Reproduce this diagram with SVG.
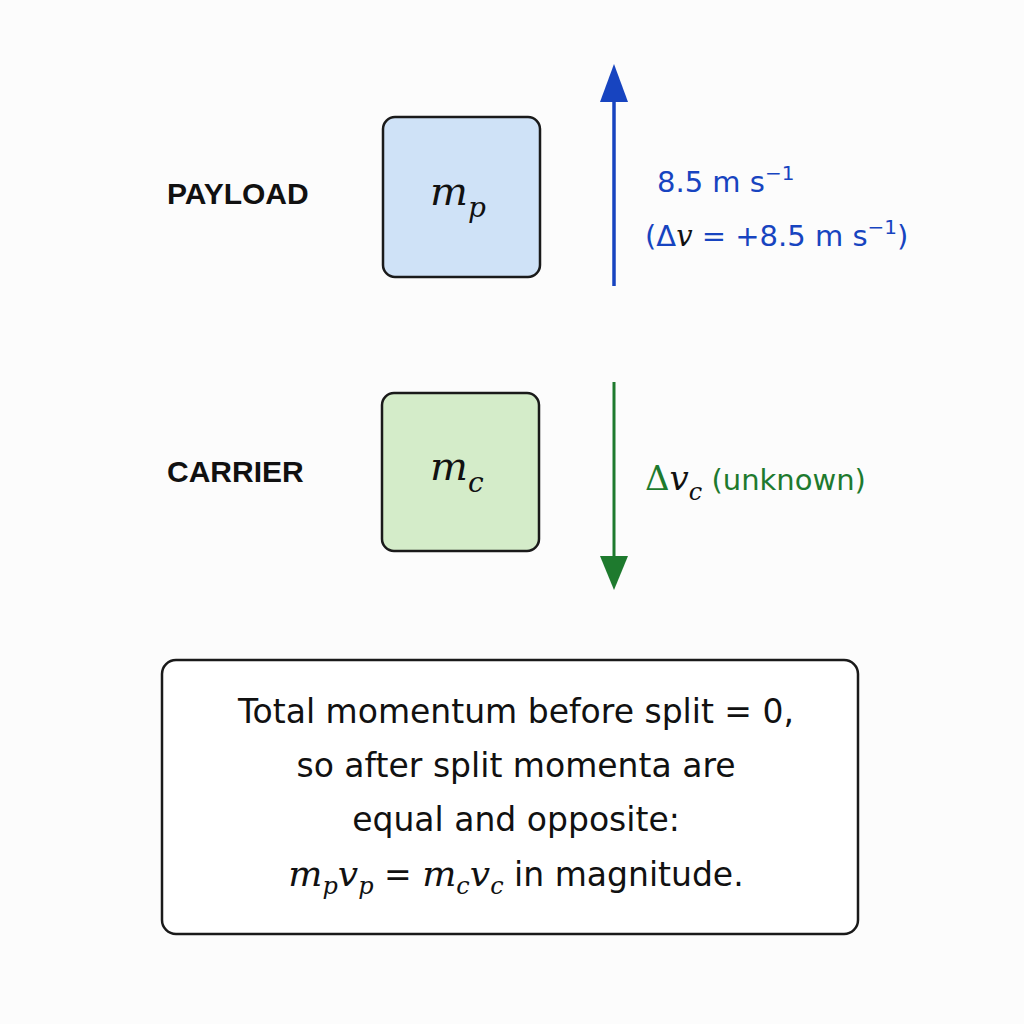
<svg xmlns="http://www.w3.org/2000/svg" width="1024" height="1024" viewBox="0 0 1024 1024">
<style>
.lbl{font-family:"Liberation Sans",Arial,sans-serif;font-weight:bold;font-size:30px;fill:#111}
.m{font-family:"DejaVu Serif","Liberation Serif",serif;font-style:italic;fill:#111}
.t{font-family:"DejaVu Sans","Noto Sans",sans-serif;font-size:33px;fill:#111}
.box{stroke:#1a1a1a;stroke-width:2.5}
</style>
<defs>
<marker id="ab" markerWidth="10" markerHeight="10" refX="5" refY="5" orient="auto" markerUnits="userSpaceOnUse" viewBox="0 0 10 10"><path d="M0,0 L10,5 L0,10 z" fill="#1744c0"/></marker>
</defs>
<rect width="1024" height="1024" fill="#fcfcfc"/>
<g id="payload">
<text class="lbl" x="167" y="204">PAYLOAD</text>
<rect class="box" x="383" y="117" width="157" height="160" rx="12" fill="#cfe2f7"/>
<text class="m" x="430" y="205" font-size="40">m<tspan font-size="28" dy="12">p</tspan></text>
</g>
<g id="carrier">
<text class="lbl" x="167" y="482">CARRIER</text>
<rect class="box" x="382" y="393" width="157" height="158" rx="12" fill="#d4ecc9"/>
<text class="m" x="430" y="480" font-size="40">m<tspan font-size="28" dy="12">c</tspan></text>
</g>
<g id="connectors">
<line x1="614" y1="286" x2="614" y2="90" stroke="#1744c0" stroke-width="3.5"/>
<path d="M614,64 L600,102 L628,102 z" fill="#1744c0"/>
<line x1="614" y1="382" x2="614" y2="565" stroke="#1e7a2e" stroke-width="3"/>
<path d="M614,590 L600,556 L628,556 z" fill="#1e7a2e"/>
</g>
<g id="labels">
<text x="657" y="192" font-family="DejaVu Sans,sans-serif" font-size="29" fill="#1744c0">8.5 m s<tspan font-size="20" dy="-12">−1</tspan></text>
<text x="645" y="246" font-family="DejaVu Sans,sans-serif" font-size="29" fill="#1744c0">(Δ<tspan class="m" fill="#1744c0">v</tspan> = +8.5 m s<tspan font-size="20" dy="-12">−1</tspan><tspan dy="12">)</tspan></text>
<text x="645" y="490" font-family="DejaVu Sans,sans-serif" font-size="29" fill="#1e7a2e"><tspan font-family="DejaVu Serif,serif" font-size="34">Δ</tspan><tspan class="m" fill="#1e7a2e" font-size="34">v</tspan><tspan class="m" fill="#1e7a2e" font-size="24" dy="10">c</tspan><tspan dy="-10"> (unknown)</tspan></text>
</g>
<g id="note">
<rect class="box" x="162" y="660" width="696" height="274" rx="14" fill="#fff"/>
<text class="t" x="516" y="723" text-anchor="middle">Total momentum before split = 0,</text>
<text class="t" x="516" y="777" text-anchor="middle">so after split momenta are</text>
<text class="t" x="516" y="831" text-anchor="middle">equal and opposite:</text>
<text x="516" y="886" text-anchor="middle" font-family="DejaVu Sans,sans-serif" font-size="33" fill="#111"><tspan class="m" font-size="36">m</tspan><tspan class="m" font-size="24" dy="8">p</tspan><tspan class="m" font-size="36" dy="-8">v</tspan><tspan class="m" font-size="24" dy="8">p</tspan><tspan dy="-8"> = </tspan><tspan class="m" font-size="36">m</tspan><tspan class="m" font-size="24" dy="8">c</tspan><tspan class="m" font-size="36" dy="-8">v</tspan><tspan class="m" font-size="24" dy="8">c</tspan><tspan dy="-8"> in magnitude.</tspan></text>
</g>
</svg>
